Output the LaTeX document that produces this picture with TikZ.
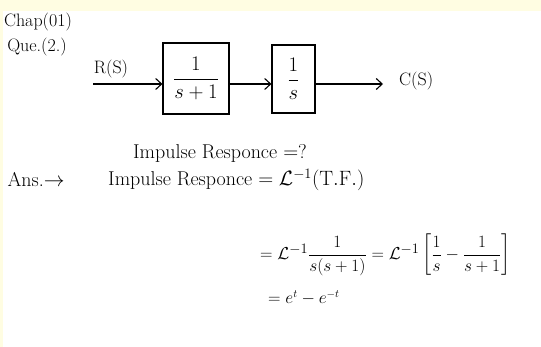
\documentclass[tikz,border=0pt]{standalone}
\usepackage{amsmath}
\usetikzlibrary{positioning,arrows.meta}
\definecolor{paper}{RGB}{255,253,226}
\tikzset{
  blockbox/.style={draw,line width=1.1pt,minimum width=66pt,minimum height=71pt,inner sep=0pt},
  sig/.style={-{Straight Barb[length=6pt,width=11pt]},line width=1.1pt},
  txt/.style={inner sep=1pt}
}
\begin{document}
\begin{tikzpicture}[x=1pt,y=-1pt,font=\fontsize{20}{24}\selectfont]
\useasboundingbox (0,0) rectangle (541,347);
\fill[paper] (0,0) rectangle (541,11);
\fill[paper] (0,11) rectangle (3,347);
% question
\node[txt,font=\fontsize{18}{22}\selectfont] (chap) at (38,22) {Chap(01)};
\node[txt,font=\fontsize{18}{22}\selectfont] (que) at (37,47) {Que.(2.)};
% block diagram
\node[blockbox] (g1) at (196,78.5) {$\dfrac{1}{s+1}$};
\node[blockbox,minimum width=43pt,minimum height=68pt] (g2) at (293.5,79) {$\dfrac{1}{s}$};
\coordinate (rin) at (93,84);
\node[txt,font=\fontsize{18}{22}\selectfont] (rs) at (111,69) {R(S)};
\node[txt,anchor=west,font=\fontsize{18}{22}\selectfont] (cs) at (398,81) {C(S)};
\draw[sig] (rin) -- (rin -| g1.west);
\draw[sig] (g1.east |- rin) -- (g2.west |- rin);
\draw[sig] (g2.east |- rin) -- ([xshift=-15pt]cs.west |- rin);
% answer
\node[txt] (ask) at (220,153) {Impulse Responce $=$?};
\node[txt] (ans) at (36,180) {Ans.$\rightarrow$};
\node[txt,anchor=west] (ir) at (107,180) {Impulse Responce $=\mathcal{L}^{-1}(\mathrm{T.F.})$};
\node[txt,anchor=west,font=\fontsize{19}{23}\selectfont] (step1) at (259,255) {$=\mathcal{L}^{-1}\dfrac{1}{s(s+1)}=\mathcal{L}^{-1}\left[\dfrac{1}{s}-\dfrac{1}{s+1}\right]$};
\node[txt,anchor=west,font=\fontsize{16}{19}\selectfont] (step2) at (267,298) {$=e^{t}-e^{-t}$};
\end{tikzpicture}
\end{document}
